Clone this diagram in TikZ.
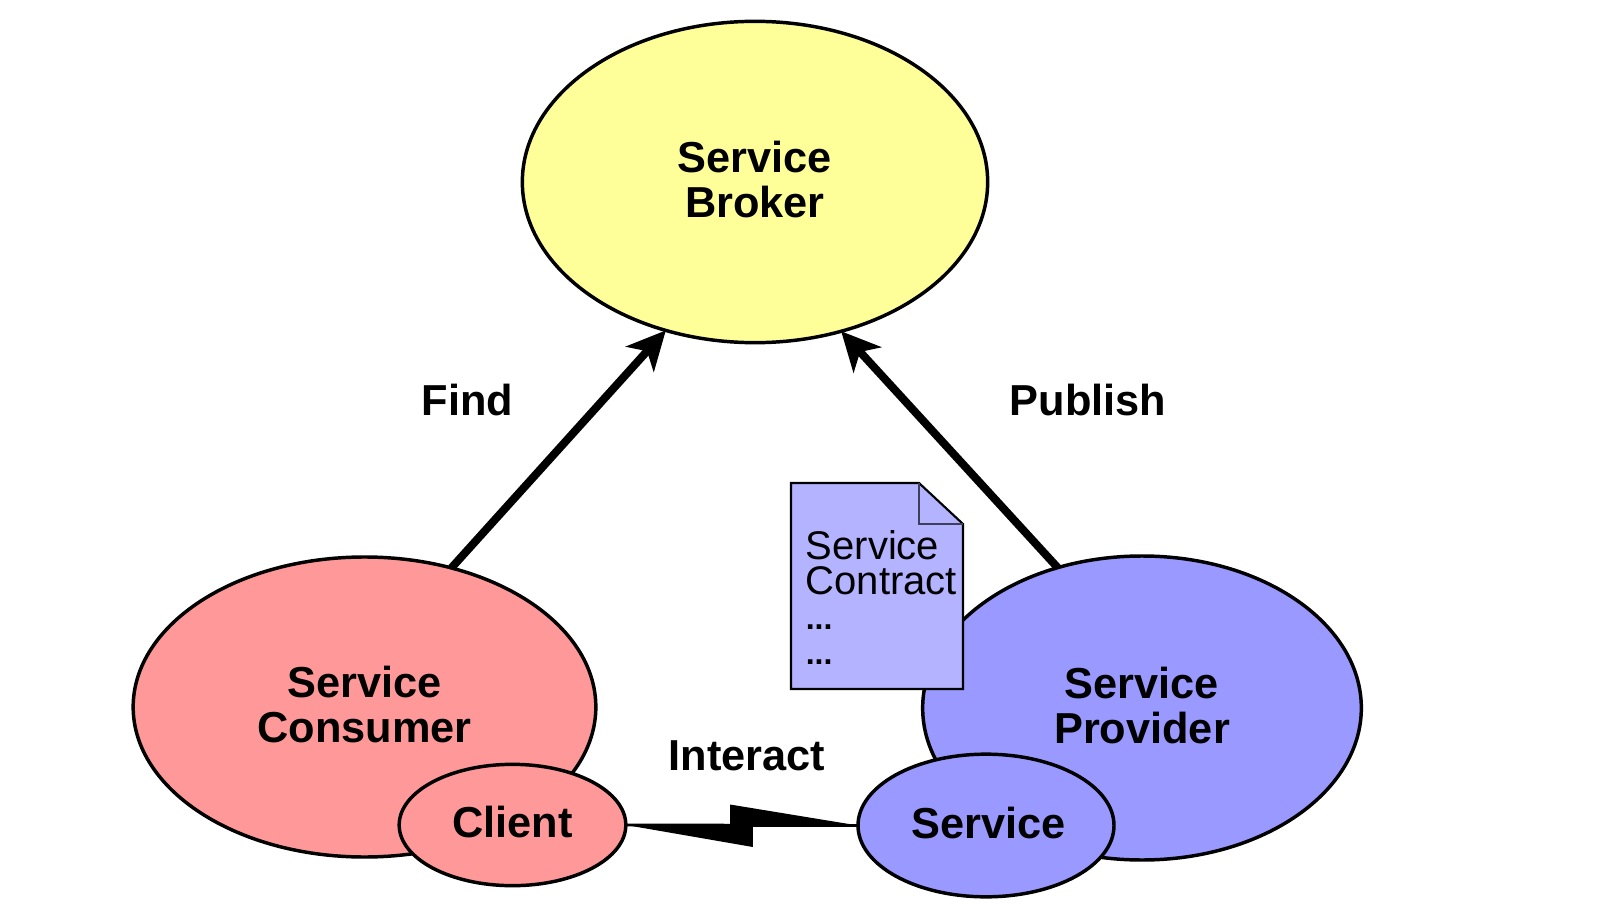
\documentclass[tikz,border=0pt]{standalone}
\usepackage{fontspec}
\setmainfont{Liberation Sans}
\usetikzlibrary{arrows.meta,shapes.geometric}
\definecolor{brokercol}{RGB}{255,255,153}
\definecolor{consumercol}{RGB}{255,153,153}
\definecolor{providercol}{RGB}{153,153,255}
\definecolor{contractcol}{RGB}{179,179,255}
\newcommand{\lift}{\rule[-4.5pt]{0pt}{1pt}}
\tikzset{
  party/.style={ellipse,draw=black,line width=2.6pt,inner sep=0pt,outer sep=0pt,align=center,
    font=\fontsize{32.5}{34}\selectfont\bfseries},
  verb/.style={font=\fontsize{32.5}{34}\selectfont\bfseries},
  link/.style={line width=6pt,-{Stealth[length=29pt,width=28pt,inset=8pt]}}
}
\begin{document}
\begin{tikzpicture}[x=0.75pt,y=-0.75pt]
    \useasboundingbox (0,0) rectangle (1600,920);

    % Parties
    \node[party,fill=brokercol,minimum width=349pt,minimum height=241pt] (broker) at (755,182) {Service\\Broker\lift};
    \node[party,fill=consumercol,minimum width=347pt,minimum height=225pt] (consumer) at (364.5,707) {Service\\Consumer\lift};
    \node[party,fill=providercol,minimum width=329pt,minimum height=228pt] (provider) at (1142,708) {Service\\Provider\lift};

    % Find and publish arrows
    \draw[link] (consumer.58) -- (broker.239);
    \draw[link] (provider.121.2) -- (broker.300.3);

    % Inner ellipses
    \node[party,fill=consumercol,minimum width=170pt,minimum height=91pt] (client) at (512.5,825) {Client\lift};
    \node[party,fill=providercol,minimum width=192pt,minimum height=107pt] (service) at (986,825.5) {\hspace*{4pt}Service\lift};

    % Lightning bolt
    \fill (client.east) -- ++(127,22) -- ++(0,-20) -- (service.west) -- ++(-128,-21) -- ++(0,21) -- cycle;
    \draw[line width=2.2pt] (client.east) -- (service.west);

    % Labels
    \node[verb] (find) at (467.5,400) {Find};
    \node[verb] (publish) at (1088,400) {Publish};
    \node[verb] (interact) at (747,756) {Interact};

    % Contract page
    \draw[line width=1.6pt,fill=contractcol] (791,483) -- (919,483) -- (963,524) -- (963,689) -- (791,689) -- cycle;
    \draw[line width=1.6pt,draw=black!65!contractcol] (919,483) -- (919,524) -- (963,524);
    \node[anchor=north west,inner sep=0pt,align=left,font=\fontsize{30}{26.2}\selectfont] (contract) at (805.5,530)
        {Service\\Contract\\{\fontsize{24}{26.2}\selectfont\bfseries ...}\\{\fontsize{24}{26.2}\selectfont\bfseries ...}};

\end{tikzpicture}
\end{document}
